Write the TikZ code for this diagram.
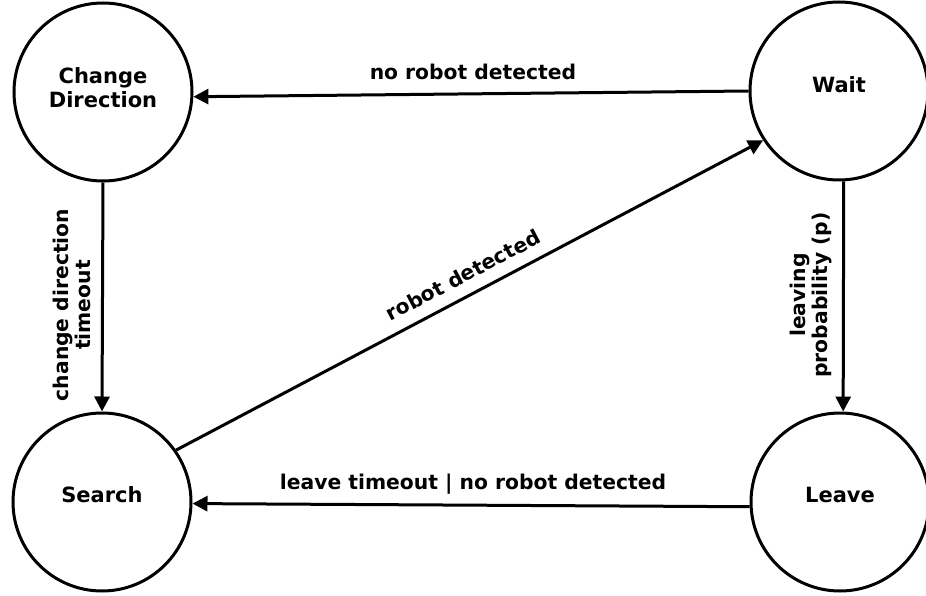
\documentclass[tikz,border=0pt]{standalone}
\usepackage{fontspec}
\setmainfont{DejaVu Sans}
\usetikzlibrary{arrows.meta}
\begin{document}
\begin{tikzpicture}[x=1pt,y=-1pt,
  state/.style={circle,draw,line width=3pt,minimum size=178pt,inner sep=0pt},
  statetext/.style={font=\fontsize{21}{24}\selectfont\bfseries,align=center},
  edge/.style={line width=3pt,-{Triangle[length=15pt,width=15pt]}},
  elabel/.style={font=\fontsize{20.3}{22}\selectfont\bfseries,align=center,inner sep=0pt}]
\useasboundingbox (0,0) rectangle (926,596);
% states
\node[state] (cd) at (103,92) {};
\node[state] (w) at (839,91) {};
\node[state] (s) at (102,502) {};
\node[state] (l) at (840,502) {};
\node[statetext] (cdt) at (103,88) {Change\\Direction};
\node[statetext] (wt) at (839,85) {Wait};
\node[statetext] (st) at (102,495) {Search};
\node[statetext] (lt) at (840,495) {Leave};
% transitions
\draw[edge] (w.west) -- (cd.-3);
\draw[edge] (cd.south) -- (s.north);
\draw[edge] (s.35) -- (w.213);
\draw[edge] (w.-87) -- (l.88);
\draw[edge] (l.-177) -- (s.-1);
% transition labels
\node[elabel] (lnr) at (473,72) {no robot detected};
\node[elabel,rotate=90] (lcd) at (72,305) {change direction\\timeout};
\node[elabel,rotate=27.8] (lrd) at (463,275) {robot detected};
\node[elabel,rotate=90] (llp) at (811,295) {leaving\\probability (p)};
\node[elabel] (llt) at (473,484) {leave timeout | no robot detected};
\end{tikzpicture}
\end{document}
